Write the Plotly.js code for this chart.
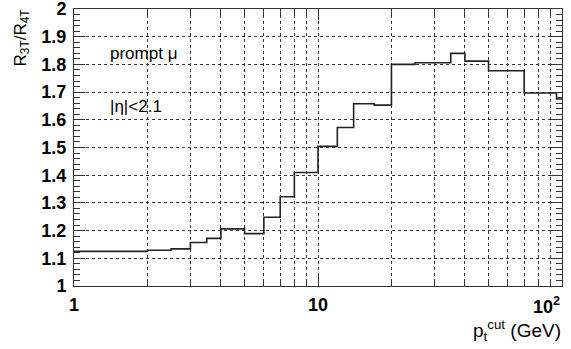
<!DOCTYPE html>
<html>
<head>
<meta charset="utf-8">
<script src="https://cdn.plot.ly/plotly-3.0.1.min.js"></script>
<style>html,body{margin:0;padding:0;background:#fff;}#chart{width:571px;height:349px;}</style>
</head>
<body>
<div id="chart"></div>
<script>
// Bin edges of pt cut (GeV)
const binEdges = [1, 2, 2.5, 3, 3.5, 4, 5, 6, 7, 8, 10, 12, 14, 17, 20, 25, 35, 40, 50, 70, 95, 100];
// R3T/R4T per bin
const ratioValues = [1.125, 1.129, 1.134, 1.157, 1.172, 1.206, 1.189, 1.248, 1.322, 1.41, 1.504, 1.572, 1.658, 1.653, 1.80, 1.806, 1.84, 1.812, 1.777, 1.697, 1.675];
const xTickVals = [1, 10];
const xTickText = ["1", "10"];
const xLastTickText = "10<sup>2</sup>";
const xMinorVals = [2,3,4,5,6,7,8,9,20,30,40,50,60,70,80,90];
const yTickVals = [1, 1.1, 1.2, 1.3, 1.4, 1.5, 1.6, 1.7, 1.8, 1.9, 2];
const yTickText = ["1", "1.1", "1.2", "1.3", "1.4", "1.5", "1.6", "1.7", "1.8", "1.9", "2"];

const ys = ratioValues.concat([ratioValues[ratioValues.length - 1]]);

const trace = {
  x: binEdges, y: ys, type: 'scatter', mode: 'lines',
  line: {shape: 'hv', color: '#222', width: 1.6},
  hoverinfo: 'skip'
};

const L = 74, R = 562, T = 9, B = 286;
const tf = {size: 18, family: 'Liberation Sans, Arial, sans-serif', weight: 'bold', color: '#000'};
const layout = {
  width: 571, height: 349,
  margin: {l: L, r: 571 - R, t: T, b: 349 - B},
  paper_bgcolor: '#fff', plot_bgcolor: '#fff',
  showlegend: false,
  font: {family: 'Liberation Sans, Arial, sans-serif', color: '#000'},
  xaxis: {
    type: 'log', range: [-0.00005, 2.00005],
    tickmode: 'array', tickvals: xTickVals.concat([100]), ticktext: xTickText.concat([""]),
    ticks: 'inside', ticklen: 11, tickwidth: 1, tickcolor: '#333',
    showline: true, linecolor: '#333', linewidth: 1, mirror: 'ticks',
    showgrid: true, gridcolor: '#333', gridwidth: 1, griddash: 'dot',
    tickfont: tf, ticklabelstandoff: 2, ticklabeloverflow: 'allow',
    minor: {tickmode: 'array', tickvals: xMinorVals, ticks: 'inside', ticklen: 7, tickcolor: '#333',
            showgrid: true, gridcolor: '#333', gridwidth: 1, griddash: 'dot'},
    zeroline: false
  },
  yaxis: {
    range: [0.9999, 2.0001],
    tickmode: 'array', tickvals: yTickVals, ticktext: yTickText,
    ticks: 'inside', ticklen: 11, tickwidth: 1, tickcolor: '#333',
    showline: true, linecolor: '#333', linewidth: 1, mirror: 'ticks',
    showgrid: true, gridcolor: '#333', gridwidth: 1, griddash: 'dot',
    tickfont: tf, ticklabelstandoff: 3, ticklabeloverflow: 'allow',
    minor: {dtick: 0.02, tick0: 1, ticks: 'inside', ticklen: 6, tickcolor: '#333', showgrid: false},
    zeroline: false
  },
  annotations: [
    {text: xLastTickText, xref: 'paper', yref: 'paper', x: (562 - L) / (R - L), y: -(292 - B) / (B - T),
     xanchor: 'right', yanchor: 'top', showarrow: false, font: tf},
    {text: 'prompt μ', xref: 'paper', yref: 'paper', x: (108 - L) / (R - L), y: 1 - (53 - T) / (B - T),
     xanchor: 'left', yanchor: 'middle', showarrow: false, font: {size: 17}},
    {text: '|η|<2.1', xref: 'paper', yref: 'paper', x: (108 - L) / (R - L), y: 1 - (107 - T) / (B - T),
     xanchor: 'left', yanchor: 'middle', showarrow: false, font: {size: 17}},
    {text: 'R<sub>3T</sub>/R<sub>4T</sub>', xref: 'paper', yref: 'paper', textangle: -90,
     x: (22 - L) / (R - L), y: 1 - (8 - T) / (B - T), xanchor: 'center', yanchor: 'top',
     showarrow: false, font: {size: 17}},
    {text: 'p<sub>t</sub><sup>cut</sup> (GeV)', xref: 'paper', yref: 'paper',
     x: (563 - L) / (R - L), y: -(330 - B) / (B - T), xanchor: 'right', yanchor: 'middle',
     showarrow: false, font: {size: 19}}
  ]
};

Plotly.newPlot('chart', [trace], layout, {staticPlot: true, displayModeBar: false});
</script>
</body>
</html>
